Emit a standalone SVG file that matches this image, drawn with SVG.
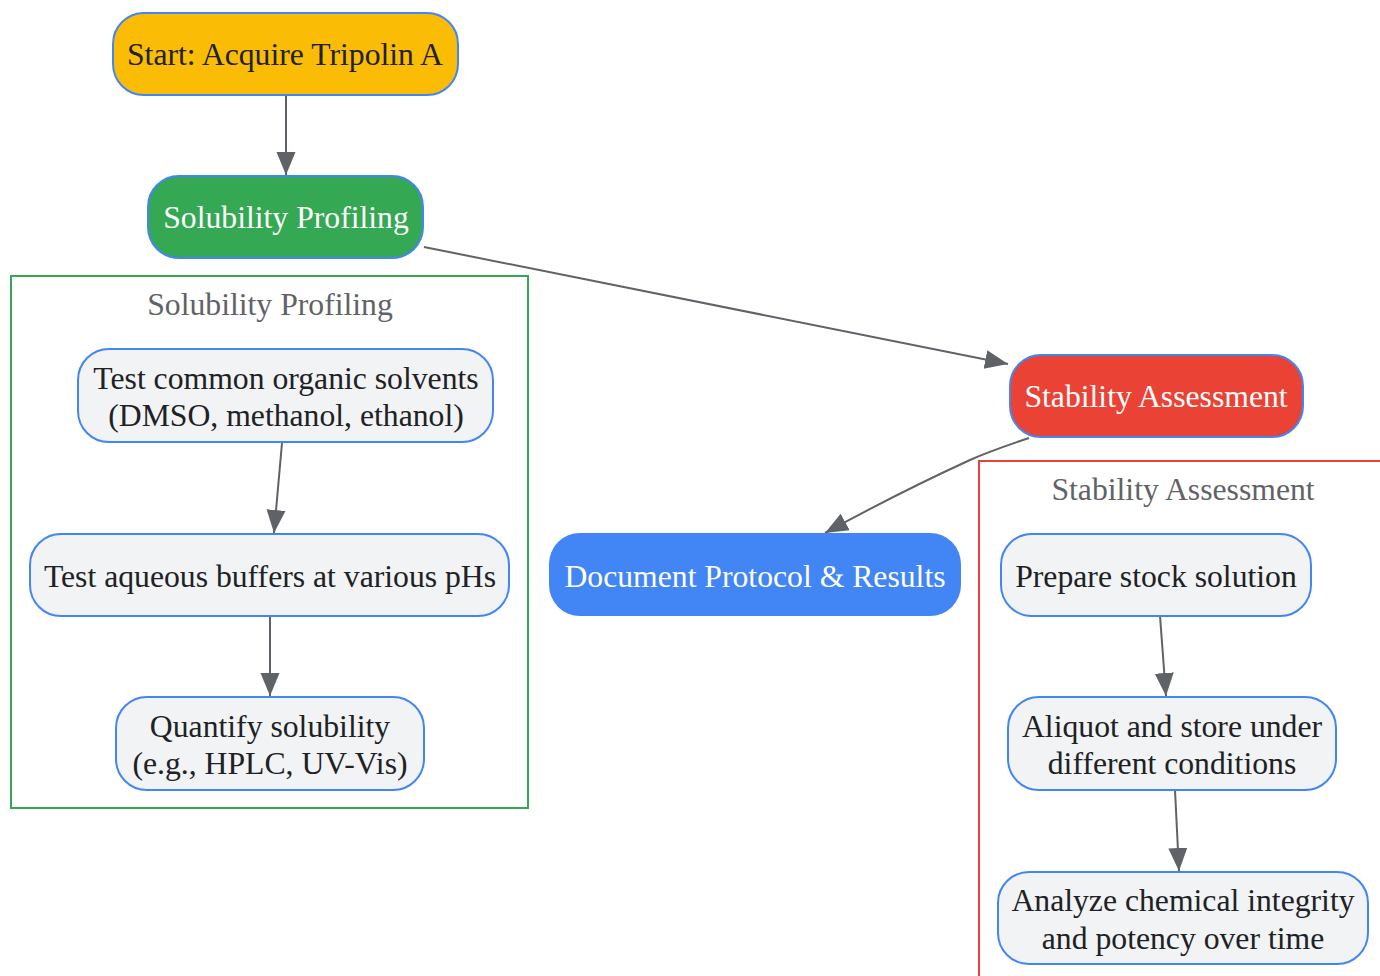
<svg xmlns="http://www.w3.org/2000/svg" width="1380" height="976" viewBox="0 0 1380 976">
<defs>
<marker id="ah" markerUnits="userSpaceOnUse" markerWidth="26" markerHeight="22" refX="23" refY="10" orient="auto">
<path d="M0,0.5 L23,10 L0,19.5 Z" fill="#5f6368"/>
</marker>
<style>
text{font-family:"Liberation Serif","Times New Roman",serif;font-size:31.7px;text-anchor:middle}
.dark{fill:#202124}
.white{fill:#ffffff}
.clab{fill:#5f6368}
.step{fill:#f1f3f4;stroke:#4285f4;stroke-width:2}
.edge{fill:none;stroke:#5f6368;stroke-width:2;marker-end:url(#ah)}
</style>
</defs>
<rect width="1380" height="976" fill="#ffffff"/>
<g id="cluster-solubility">
<rect x="11" y="276" width="517" height="532" fill="none" stroke="#34a853" stroke-width="2"/>
<text x="270" y="315" class="clab">Solubility Profiling</text>
</g>
<g id="cluster-stability">
<rect x="979" y="461" width="420" height="540" fill="none" stroke="#ea4335" stroke-width="2"/>
<text x="1183" y="500" class="clab">Stability Assessment</text>
</g>
<g id="connectors">
<path class="edge" d="M286,95 L286,175"/>
<path class="edge" d="M424,247 L1008,364"/>
<path class="edge" d="M1029,438 Q990,451 970,460 Q900,492 825,533"/>
<path class="edge" d="M282,443 L274,533"/>
<path class="edge" d="M270,616 L270,696"/>
<path class="edge" d="M1160,616 L1166,696"/>
<path class="edge" d="M1175,790 L1179,871"/>
</g>
<g id="start">
<rect x="113" y="13" width="345" height="82" rx="31" fill="#fbbc05" stroke="#4285f4" stroke-width="2"/>
<text x="285" y="65" class="dark">Start: Acquire Tripolin A</text>
</g>
<g id="solubility">
<rect x="148" y="176" width="275" height="82" rx="31" fill="#34a853" stroke="#4285f4" stroke-width="2"/>
<text x="286" y="228" class="white">Solubility Profiling</text>
</g>
<g id="stability">
<rect x="1010" y="355" width="293" height="82" rx="31" fill="#ea4335" stroke="#4285f4" stroke-width="2"/>
<text x="1156" y="407" class="white">Stability Assessment</text>
</g>
<g id="document">
<rect x="549" y="533" width="412" height="83" rx="31" fill="#4285f4"/>
<text x="755" y="587" class="white">Document Protocol &amp; Results</text>
</g>
<g id="organic">
<rect x="78" y="349" width="415" height="93" rx="31" class="step"/>
<text x="286" y="389" class="dark">Test common organic solvents</text>
<text x="286" y="426" class="dark">(DMSO, methanol, ethanol)</text>
</g>
<g id="aqueous">
<rect x="30" y="534" width="479" height="82" rx="31" class="step"/>
<text x="270" y="587" class="dark">Test aqueous buffers at various pHs</text>
</g>
<g id="quantify">
<rect x="116" y="697" width="308" height="93" rx="31" class="step"/>
<text x="270" y="737" class="dark">Quantify solubility</text>
<text x="270" y="774" class="dark">(e.g., HPLC, UV-Vis)</text>
</g>
<g id="prepare">
<rect x="1001" y="534" width="310" height="82" rx="31" class="step"/>
<text x="1156" y="587" class="dark">Prepare stock solution</text>
</g>
<g id="aliquot">
<rect x="1008" y="697" width="328" height="93" rx="31" class="step"/>
<text x="1172" y="737" class="dark">Aliquot and store under</text>
<text x="1172" y="774" class="dark">different conditions</text>
</g>
<g id="analyze">
<rect x="998" y="872" width="370" height="92" rx="31" class="step"/>
<text x="1183" y="911" class="dark">Analyze chemical integrity</text>
<text x="1183" y="949" class="dark">and potency over time</text>
</g>
</svg>
